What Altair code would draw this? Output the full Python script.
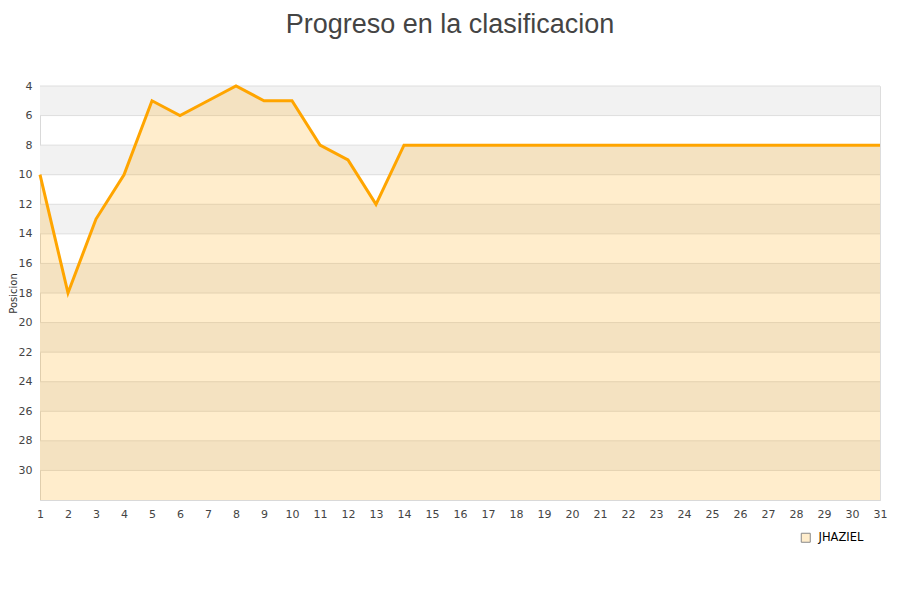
import altair as alt
import pandas as pd

jornadas = list(range(1, 32))
posiciones = [10, 18, 13, 10, 5, 6, 5, 4, 5, 5, 8, 9, 12, 8] + [8] * 17
equipo = "JHAZIEL"
y_ticks = list(range(4, 32, 2))
band_starts = [4, 8, 12, 16, 20, 24, 28]

df = pd.DataFrame({"Jornada": jornadas, "Posicion": posiciones, "Equipo": equipo})
df["base"] = 32
bands = pd.DataFrame({"y0": band_starts, "y1": [b + 2 for b in band_starts]})
grid = pd.DataFrame({"v": y_ticks})
legend_df = pd.DataFrame({"Jornada": [-10], "Posicion": [40], "Equipo": [equipo]})

xs = alt.Scale(domain=[1, 31], nice=False, zero=False)
ys = alt.Scale(domain=[4, 32], reverse=True, nice=False, zero=False)

x_axis = alt.Axis(values=jornadas, title=None, ticks=False, grid=False, labelOverlap=False,
                  labelFlush=False, labelPadding=8, labelFontSize=11, labelColor="#444",
                  domainColor="#d9d9d9", format="d")
y_axis = alt.Axis(values=y_ticks, title="Posicion", ticks=False, grid=False, labelOverlap=False,
                  labelFlush=False, labelPadding=8, labelFontSize=11, labelColor="#444",
                  titleFontSize=10, titleFontWeight="normal", titleColor="#333",
                  titlePadding=0, domainColor="#d9d9d9", format="d")

band_layer = alt.Chart(bands).mark_rect(color="#f2f2f2").encode(
    y=alt.Y("y0:Q", scale=ys, axis=y_axis),
    y2="y1:Q",
    x=alt.value(0), x2=alt.value(840),
)
grid_layer = alt.Chart(grid).mark_rule(color="#dedede", strokeWidth=1).encode(
    y=alt.Y("v:Q", scale=ys, axis=y_axis),
    x=alt.value(0), x2=alt.value(840),
)
area = alt.Chart(df).mark_area(color="#ffa500", opacity=0.2).encode(
    x=alt.X("Jornada:Q", scale=xs, axis=x_axis),
    y=alt.Y("Posicion:Q", scale=ys, axis=y_axis),
    y2="base:Q",
)
line = alt.Chart(df).mark_line(color="#ffa500", strokeWidth=3).encode(
    x=alt.X("Jornada:Q", scale=xs, axis=x_axis),
    y=alt.Y("Posicion:Q", scale=ys, axis=y_axis),
)
legend_layer = alt.Chart(legend_df).mark_square(clip=True, opacity=1, filled=True).encode(
    x=alt.X("Jornada:Q", scale=xs, axis=x_axis),
    y=alt.Y("Posicion:Q", scale=ys, axis=y_axis),
    fill=alt.Fill("Equipo:N", scale=alt.Scale(range=["#ffedcc"]),
                  legend=alt.Legend(title=None, orient="none", legendX=760, legendY=446,
                                    symbolType="square", symbolSize=81,
                                    symbolStrokeColor="#888", symbolStrokeWidth=1,
                                    symbolOpacity=1,
                                    labelFontSize=11.5, labelColor="#000", labelOffset=7)),
)

chart = alt.layer(band_layer, grid_layer, area, line, legend_layer).properties(
    width=840, height=414,
    title=alt.TitleParams("Progreso en la clasificacion", fontSize=27, fontWeight="normal",
                          color="#444", anchor="middle", offset=41, dx=-10,
                          font="Liberation Sans"),
    autosize=alt.AutoSizeParams(type="none"),
    padding={"left": 32, "top": 78, "right": 12, "bottom": 84},
).configure_view(stroke="#e0e0e0").configure(font="DejaVu Sans").configure_axis(labelOverlap=False)

chart.save("out.html", embed_options={"renderer": "svg", "actions": False})
